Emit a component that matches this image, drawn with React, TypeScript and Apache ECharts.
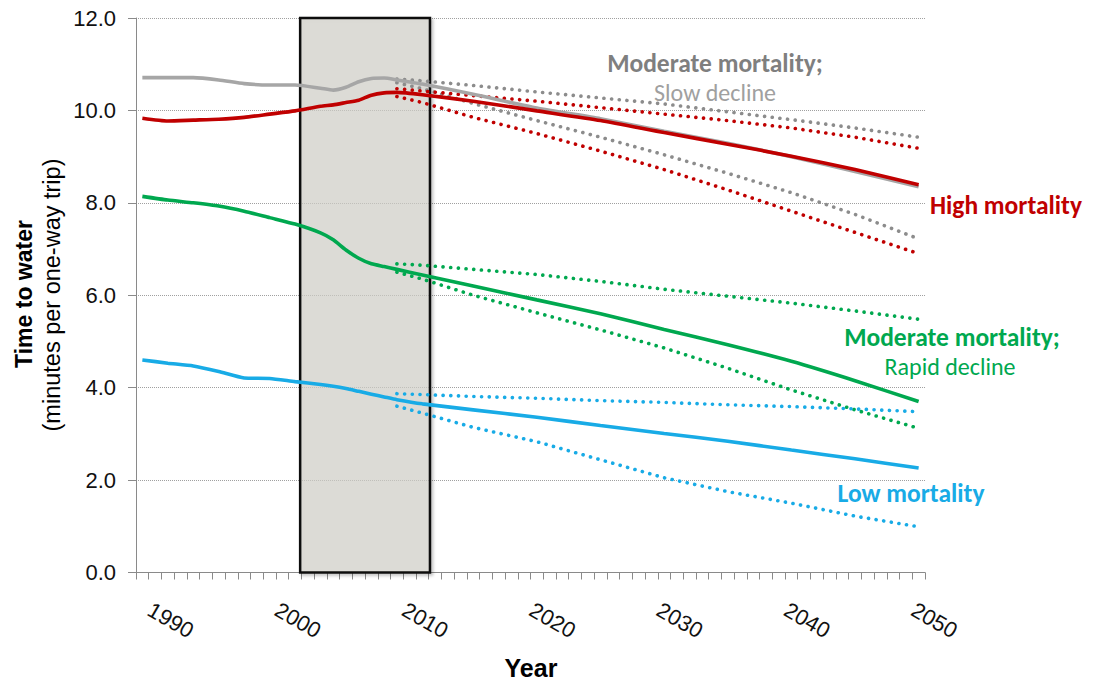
import React, { useEffect, useRef } from 'react';
import * as echarts from 'echarts';

// Categories: one per year, 1989..2050
const years: string[] = Array.from({ length: 62 }, (_, i) => String(1989 + i));
const tickLabels = ['1990', '2000', '2010', '2020', '2030', '2040', '2050'];
const yTickValues = [0, 2, 4, 6, 8, 10, 12];

// Shaded period (in year units, boundaries)
const boxRange = [2001.4, 2011.6];

// Solid lines (history + central projection)
const solidYears = ['1989', '1991', '1993', '1995', '1997', '1999', '2001', '2003', '2004', '2005', '2006', '2007', '2008', '2009', '2011', '2015', '2020', '2025', '2030', '2035', '2040', '2045', '2050'];
const grayValues = [10.71, 10.71, 10.71, 10.66, 10.58, 10.55, 10.55, 10.48, 10.44, 10.5, 10.62, 10.69, 10.7, 10.66, 10.57, 10.35, 10.05, 9.82, 9.55, 9.29, 9.0, 8.68, 8.35];
const redValues = [9.83, 9.77, 9.79, 9.81, 9.85, 9.92, 9.99, 10.09, 10.12, 10.17, 10.22, 10.33, 10.38, 10.39, 10.34, 10.2, 9.99, 9.78, 9.52, 9.27, 9.01, 8.72, 8.39];
const greenValues = [8.14, 8.06, 8.0, 7.93, 7.82, 7.68, 7.54, 7.35, 7.2, 6.98, 6.8, 6.68, 6.62, 6.56, 6.44, 6.2, 5.9, 5.6, 5.26, 4.93, 4.57, 4.15, 3.7];
const blueValues = [4.6, 4.53, 4.47, 4.35, 4.21, 4.2, 4.13, 4.07, 4.03, 3.98, 3.92, 3.86, 3.8, 3.74, 3.65, 3.52, 3.36, 3.18, 3.01, 2.84, 2.65, 2.46, 2.26];

// Dotted projection bounds
const dotYears = ['2009', '2011', '2015', '2020', '2025', '2030', '2035', '2040', '2045', '2050'];
const grayUpper = [10.68, 10.64, 10.54, 10.4, 10.27, 10.14, 9.97, 9.8, 9.62, 9.42];
const grayLower = [10.6, 10.47, 10.15, 9.78, 9.42, 9.04, 8.64, 8.22, 7.75, 7.22];
const redUpper = [10.47, 10.42, 10.32, 10.2, 10.06, 9.92, 9.78, 9.62, 9.42, 9.18];
const redLower = [10.3, 10.17, 9.85, 9.5, 9.12, 8.72, 8.28, 7.82, 7.36, 6.9];
const greenUpper = [6.68, 6.65, 6.56, 6.45, 6.3, 6.13, 5.98, 5.83, 5.66, 5.48];
const greenLower = [6.5, 6.35, 6.0, 5.62, 5.25, 4.86, 4.42, 3.95, 3.52, 3.12];
const blueUpper = [3.87, 3.85, 3.81, 3.77, 3.72, 3.68, 3.63, 3.59, 3.54, 3.48];
const blueLower = [3.6, 3.45, 3.14, 2.83, 2.44, 2.05, 1.75, 1.5, 1.22, 0.99];

const GRAY = '#a6a6a6';
const GRAY_DOT = '#8c8c8c';
const RED = '#c00000';
const GREEN = '#00a84f';
const BLUE = '#18abe6';

const AXIS_FONT = '"Liberation Sans", Arial, sans-serif';
const LABEL_FONT = 'Carlito, Lato, sans-serif';

const pairs = (xs: string[], vs: number[]) => xs.map((x, i) => [x, vs[i]]);

const solid = (name: string, color: string, vals: number[]) => ({
  name,
  type: 'line',
  data: pairs(solidYears, vals),
  showSymbol: false,
  symbol: 'none',
  smooth: 0.2,
  lineStyle: { color, width: 3.6 },
  z: 4,
});

const dotted = (name: string, color: string, vals: number[]) => ({
  name,
  type: 'line',
  data: pairs(dotYears, vals),
  showSymbol: false,
  symbol: 'none',
  lineStyle: { color, width: 3.6, type: [0.1, 7.6], cap: 'round', join: 'round' },
  z: 3,
});

const label = (text: string, x: number, y: number, fill: string, bold: boolean) => ({
  type: 'text',
  x,
  y,
  style: {
    text,
    fill,
    fontSize: bold ? 25.5 : 24,
    fontWeight: bold ? 'bold' : 'normal',
    fontFamily: LABEL_FONT,
    align: 'center',
    verticalAlign: 'middle',
  },
});

export default function App() {
  const ref = useRef<HTMLDivElement>(null);
  useEffect(() => {
    if (!ref.current) return;
    const chart = echarts.init(ref.current, null, { renderer: 'svg' });
    const option: any = {
      animation: false,
      backgroundColor: '#ffffff',
      grid: { left: 136, right: 176, top: 18, bottom: 108.5, containLabel: false },
      xAxis: [
        {
          type: 'category',
          data: years,
          boundaryGap: true,
          axisLine: { show: true, lineStyle: { color: '#8a8a8a', width: 1 } },
          axisTick: { show: true, interval: 0, length: 7, lineStyle: { color: '#8a8a8a' } },
          axisLabel: {
            interval: (_i: number, v: string) => tickLabels.includes(v),
            rotate: -30,
            align: 'left',
            verticalAlign: 'top',
            margin: 26,
            fontSize: 22,
            fontFamily: AXIS_FONT,
            color: '#111',
          },
          splitLine: { show: false },
        },
        { type: 'value', min: 1988.5, max: 2050.5, show: false },
      ],
      yAxis: {
        type: 'value',
        min: yTickValues[0],
        max: yTickValues[yTickValues.length - 1],
        interval: 2,
        axisLine: { show: true, lineStyle: { color: '#8a8a8a', width: 1 } },
        axisTick: { show: true, length: 8, lineStyle: { color: '#8a8a8a' } },
        axisLabel: {
          formatter: (v: number) => v.toFixed(1),
          fontSize: 22,
          fontFamily: AXIS_FONT,
          color: '#111',
          margin: 20,
        },
        splitLine: { show: true, lineStyle: { color: '#a0a0a0', type: 'dotted', width: 1 } },
      },
      series: [
        {
          name: 'box',
          type: 'line',
          xAxisIndex: 1,
          data: [[boxRange[0], 0]],
          showSymbol: false,
          symbol: 'none',
          lineStyle: { opacity: 0 },
          silent: true,
          z: 1,
          markArea: {
            silent: true,
            itemStyle: {
              color: 'rgba(214,212,205,0.65)',
              borderColor: '#111',
              borderWidth: 2.5,
              shadowColor: 'rgba(0,0,0,0.25)',
              shadowBlur: 3,
              shadowOffsetX: 2,
              shadowOffsetY: 2,
            },
            data: [[{ xAxis: boxRange[0], yAxis: 0 }, { xAxis: boxRange[1], yAxis: 12 }]],
          },
        },
        dotted('Moderate slow upper', GRAY_DOT, grayUpper),
        dotted('Moderate slow lower', GRAY_DOT, grayLower),
        dotted('High upper', RED, redUpper),
        dotted('High lower', RED, redLower),
        dotted('Moderate rapid upper', GREEN, greenUpper),
        dotted('Moderate rapid lower', GREEN, greenLower),
        dotted('Low upper', BLUE, blueUpper),
        dotted('Low lower', BLUE, blueLower),
        solid('Moderate mortality; Slow decline', GRAY, grayValues),
        solid('High mortality', RED, redValues),
        solid('Moderate mortality; Rapid decline', GREEN, greenValues),
        solid('Low mortality', BLUE, blueValues),
      ],
      graphic: [
        {
          type: 'text', x: 24, y: 294, rotation: Math.PI / 2,
          style: { text: 'Time to water', fill: '#000', fontSize: 23, fontWeight: 'bold', fontFamily: AXIS_FONT, align: 'center', verticalAlign: 'middle' },
        },
        {
          type: 'text', x: 52, y: 295, rotation: Math.PI / 2,
          style: { text: '(minutes per one-way trip)', fill: '#000', fontSize: 23.5, fontFamily: AXIS_FONT, align: 'center', verticalAlign: 'middle' },
        },
        {
          type: 'text', x: 531, y: 668,
          style: { text: 'Year', fill: '#000', fontSize: 25, fontWeight: 'bold', fontFamily: AXIS_FONT, align: 'center', verticalAlign: 'middle' },
        },
        label('Moderate mortality;', 715, 63, '#7f7f7f', true),
        label('Slow decline', 715, 92, '#a0a0a0', false),
        label('High mortality', 1006, 205, RED, true),
        label('Moderate mortality;', 952, 337, GREEN, true),
        label('Rapid decline', 950, 366, GREEN, false),
        label('Low mortality', 911, 493, BLUE, true),
      ],
    };
    chart.setOption(option);
    return () => chart.dispose();
  }, []);
  return (
    <div
      ref={ref}
      style={{ position: 'fixed', left: 0, top: 0, width: 1101, height: 681, background: '#fff' }}
    />
  );
}
